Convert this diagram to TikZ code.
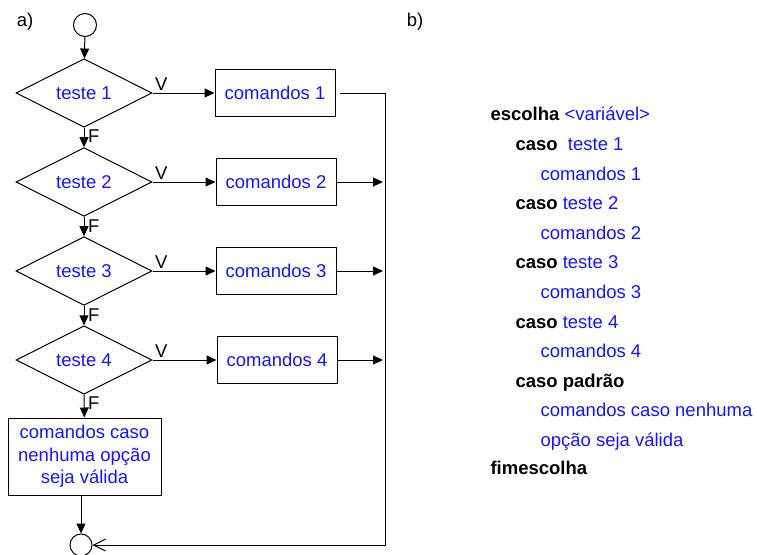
\documentclass[tikz,border=0pt]{standalone}
\usepackage{fontspec}
\setmainfont{Liberation Sans}
\usetikzlibrary{shapes.geometric,arrows.meta}
\definecolor{txtblue}{RGB}{20,20,255}

\tikzset{
  every node/.style={font=\fontsize{18.5}{22.5}\selectfont},
  teste/.style={diamond, draw, minimum width=136pt, minimum height=63pt, inner sep=0pt, text=txtblue},
  bloco/.style={rectangle, draw, minimum width=120pt, minimum height=47pt, text=txtblue},
  term/.style={circle, draw, minimum size=23pt, inner sep=0pt},
  seta/.style={-{Triangle[length=10pt,width=9pt]}},
  volta/.style={-{Straight Barb[length=12pt,width=12pt]}},
  rotulo/.style={inner sep=2pt},
  linha/.style={anchor=mid west, inner sep=0pt},
}

\begin{document}
\begin{tikzpicture}[x=1pt, y=-1pt, line width=1pt]
        \useasboundingbox (0,0) rectangle (757,554);

        % Part labels
        \node (parta) at (25,22) {a)};
        \node (partb) at (415,22) {b)};

        % Flowchart nodes
        \node[term] (inicio) at (85,25) {};
        \node[teste] (t1) at (84,93) {teste 1};
        \node[teste] (t2) at (84,182) {teste 2};
        \node[teste] (t3) at (84,271) {teste 3};
        \node[teste] (t4) at (84,360) {teste 4};

        \node[bloco] (c1) at (275,93) {comandos 1};
        \node[bloco] (c2) at (276,182) {comandos 2};
        \node[bloco] (c3) at (276,271) {comandos 3};
        \node[bloco] (c4) at (277,360) {comandos 4};

        \node[bloco, minimum width=153pt, minimum height=77pt, align=center] (padrao) at (84.5,456.5) {comandos caso\\nenhuma opção\\seja válida};
        \node[term, minimum size=22pt] (fim) at (81,545) {};

        % Free ends on the right
        \coordinate (s2) at (383,182);
        \coordinate (s3) at (383,271);
        \coordinate (s4) at (383,360);
        \coordinate (trilho) at (385,545);

        % False branches
        \draw[seta] (inicio) -- (t1);
        \foreach \i/\j in {1/2,2/3,3/4}
            \draw[seta] (t\i) -- node[rotulo, pos=0, anchor=north west, xshift=1.5pt] (f\i) {F} (t\j);
        \draw[seta] (t4) -- node[rotulo, pos=0, anchor=north west, xshift=1.5pt] (f4) {F} (padrao);

        % True branches
        \foreach \i in {1,...,4}
            \draw[seta] (t\i.east) -- node[rotulo, pos=0, anchor=south west] (v\i) {V} (c\i.west);

        % Back to the end
        \draw[volta] ([xshift=4pt]c1.east) -| (trilho) -- (fim);
        \draw[seta] (c2.east) -- (s2);
        \draw[seta] (c3.east) -- (s3);
        \draw[seta] (c4.east) -- (s4);
        \draw[seta] (padrao.south -| fim) -- (fim);

        % Pseudocode
        \node[linha] (l1) at (490,118) {\textbf{escolha} \textcolor{txtblue}{<variável>}};
        \node[linha] (l2) at (515,148) {\textbf{caso}\ \ \textcolor{txtblue}{teste 1}};
        \node[linha, text=txtblue] (l3) at (540,178) {comandos 1};
        \node[linha] (l4) at (515,207) {\textbf{caso} \textcolor{txtblue}{teste 2}};
        \node[linha, text=txtblue] (l5) at (540,237) {comandos 2};
        \node[linha] (l6) at (515,266) {\textbf{caso} \textcolor{txtblue}{teste 3}};
        \node[linha, text=txtblue] (l7) at (540,296) {comandos 3};
        \node[linha] (l8) at (515,326) {\textbf{caso} \textcolor{txtblue}{teste 4}};
        \node[linha, text=txtblue] (l9) at (540,355) {comandos 4};
        \node[linha] (l10) at (515,385) {\textbf{caso padrão}};
        \node[linha, text=txtblue] (l11) at (540,414) {comandos caso nenhuma};
        \node[linha, text=txtblue] (l12) at (540,444) {opção seja válida};
        \node[linha] (l13) at (490,472) {\textbf{fimescolha}};

    \end{tikzpicture}
\end{document}
